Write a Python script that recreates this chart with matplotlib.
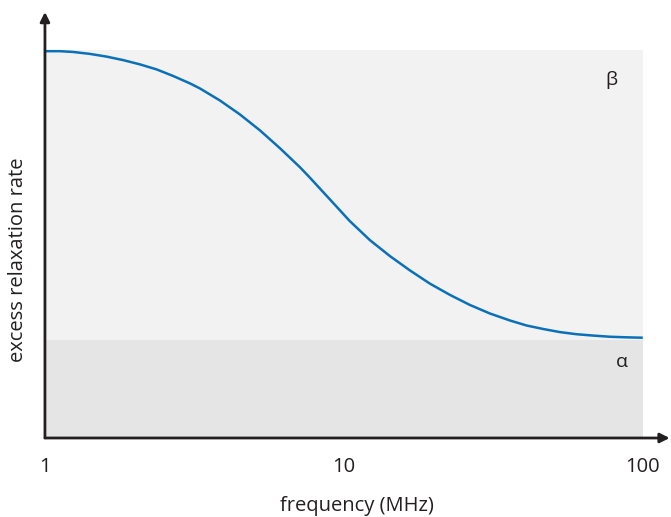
import numpy as np
import matplotlib.pyplot as plt

# curve (frequency in MHz, rate in relative units)
freq = [1.0, 1.122, 1.243, 1.414, 1.608, 1.827, 2.078, 2.364, 2.686, 3.055,
        3.299, 3.848, 4.489, 5.237, 6.109, 7.127, 7.697, 8.979, 10.47, 12.22,
        14.25, 16.63, 19.39, 22.62, 26.39, 30.78, 35.91, 40.83, 46.41, 52.78,
        60.01, 68.22, 77.56, 88.22, 100.0]
rate = [0.997, 0.997, 0.995, 0.990, 0.983, 0.974, 0.963, 0.950, 0.933, 0.914,
        0.901, 0.870, 0.834, 0.793, 0.747, 0.698, 0.671, 0.615, 0.559, 0.510,
        0.469, 0.432, 0.398, 0.369, 0.343, 0.321, 0.303, 0.290, 0.281, 0.273,
        0.2675, 0.264, 0.261, 0.2595, 0.2585]

alpha_level = 0.253
beta_level = 1.0
tick_vals = [1, 10, 100]
tick_labels = ["1", "10", "100"]

plt.rcParams['font.family'] = ['Open Sans', 'DejaVu Sans']
ink = '#231f20'

fig = plt.figure(figsize=(6.71, 5.17), dpi=100)
ax = fig.add_axes([0.067, 0.1528, 0.931, 0.824])
ax.set_xscale('log')
ax.set_xlim(1, 123)
ax.set_ylim(0, 1.098)

# shaded regions
ax.fill_between([1, 100], 0, alpha_level, color='#e5e5e5', lw=0, zorder=1)
ax.fill_between([1, 100], alpha_level, beta_level, color='#f2f2f2', lw=0, zorder=1)

ax.plot(freq, rate, color='#0a70b8', lw=1.8, zorder=3, solid_capstyle='butt')

ax.text(78.7, 0.923, "β", fontsize=14, ha='center', va='center', color=ink)
ax.text(85, 0.196, "α", fontsize=14, ha='center', va='center', color=ink)

# axes with arrow heads
for s in ax.spines.values():
    s.set_visible(False)
ax.annotate('', xy=(1.0, 0), xytext=(0, 0), xycoords='axes fraction',
            arrowprops=dict(arrowstyle='-|>', color=ink, lw=2, mutation_scale=14, shrinkA=0, shrinkB=0), zorder=4)
ax.annotate('', xy=(0, 1.0), xytext=(0, 0), xycoords='axes fraction',
            arrowprops=dict(arrowstyle='-|>', color=ink, lw=2, mutation_scale=14, shrinkA=0, shrinkB=0), zorder=4)

ax.set_xticks(tick_vals)
ax.set_xticklabels(tick_labels, fontsize=14.5, color=ink)
ax.xaxis.set_minor_locator(plt.NullLocator())
ax.tick_params(axis='x', length=0, pad=14)
ax.set_yticks([])

ax.set_xlabel("frequency (MHz)", fontsize=14.5, color=ink)
ax.xaxis.set_label_coords(0.5, -0.137)
ax.set_ylabel("excess relaxation rate", fontsize=14.5, color=ink)
ax.yaxis.set_label_coords(-0.027, 0.418)

fig.savefig("out.png", dpi=100)
